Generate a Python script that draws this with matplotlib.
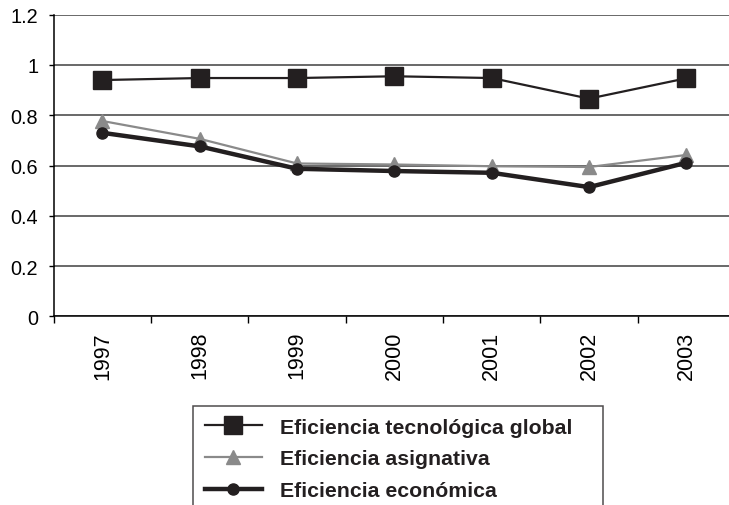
import matplotlib
matplotlib.use('Agg')
import matplotlib.pyplot as plt
from matplotlib.ticker import FixedLocator
import numpy as np

# Datos
anios = ['1997', '1998', '1999', '2000', '2001', '2002', '2003']
ef_global = [0.940, 0.948, 0.948, 0.955, 0.948, 0.866, 0.947]
ef_asignativa = [0.777, 0.706, 0.608, 0.604, 0.597, 0.594, 0.642]
ef_economica = [0.730, 0.676, 0.587, 0.578, 0.571, 0.514, 0.611]
nombres = ['Eficiencia tecnológica global', 'Eficiencia asignativa', 'Eficiencia económica']
y_ticks = [0, 0.2, 0.4, 0.6, 0.8, 1.0, 1.2]
y_labels = ['0', '0.2', '0.4', '0.6', '0.8', '1', '1.2']

plt.rcParams['font.family'] = ['Liberation Sans', 'DejaVu Sans']

W, H = 729, 506
fig = plt.figure(figsize=(W / 100, H / 100), dpi=100)
# ejes en pixeles (el borde derecho queda fuera de la imagen)
left, right, top, bottom = 53.8, 735.0, 15.7, 317.3
ax = fig.add_axes([left / W, 1 - bottom / H, (right - left) / W, (bottom - top) / H])

x = np.arange(len(anios))
negro = '#231f20'
gris = '#8a8a8a'

l1, = ax.plot(x, ef_global, color=negro, lw=1.6, marker='s', ms=13, zorder=3)
l2, = ax.plot(x, ef_asignativa, color=gris, lw=1.6, marker='^', ms=10.5, zorder=3)
l3, = ax.plot(x, ef_economica, color=negro, lw=3.2, marker='o', ms=8, zorder=4)

ax.set_xlim(-0.5, len(anios) - 0.5)
ax.set_ylim(0, 1.2)

# Eje Y
ax.set_yticks(y_ticks)
ax.set_yticklabels(y_labels, fontsize=14.3)
ax.tick_params(axis='y', which='major', length=3.6, width=1, pad=7.6, color='black')
ax.yaxis.grid(True, color='#404040', lw=1.1)
ax.set_axisbelow(True)

# Eje X: marcas entre categorias, etiquetas en el centro
ax.xaxis.set_major_locator(FixedLocator(np.arange(-0.5, len(anios), 1.0)))
ax.set_xticklabels([])
ax.xaxis.set_minor_locator(FixedLocator(x))
ax.set_xticks(x, minor=True)
ax.set_xticklabels(anios, minor=True, rotation=90, fontsize=15.5)
ax.tick_params(axis='x', which='major', length=5, width=1, color='black')
ax.tick_params(axis='x', which='minor', length=0, pad=10.5)

for s in ['top', 'right']:
    ax.spines[s].set_visible(False)
for s in ['left', 'bottom']:
    ax.spines[s].set_color('black')
    ax.spines[s].set_linewidth(1.1)

# Leyenda (la parte de abajo queda fuera de la imagen)
lx0, ly0, lx1 = 193.0, 407.0, 603.0
leg = fig.legend([l1, l2, l3], nombres, loc='upper left',
                 bbox_to_anchor=(lx0 / W, 1 - ly0 / H - 0.3, (lx1 - lx0) / W, 0.3),
                 mode='expand', prop={'weight': 'bold', 'size': 15.3},
                 frameon=True, fancybox=False, borderpad=0.55, handlelength=2.7,
                 handletextpad=0.85, labelspacing=0.6, borderaxespad=0)
leg.get_frame().set_edgecolor(negro)
leg.get_frame().set_linewidth(1.1)
for t in leg.get_texts():
    t.set_color(negro)

fig.savefig('out.png', dpi=100)
plt.close()
